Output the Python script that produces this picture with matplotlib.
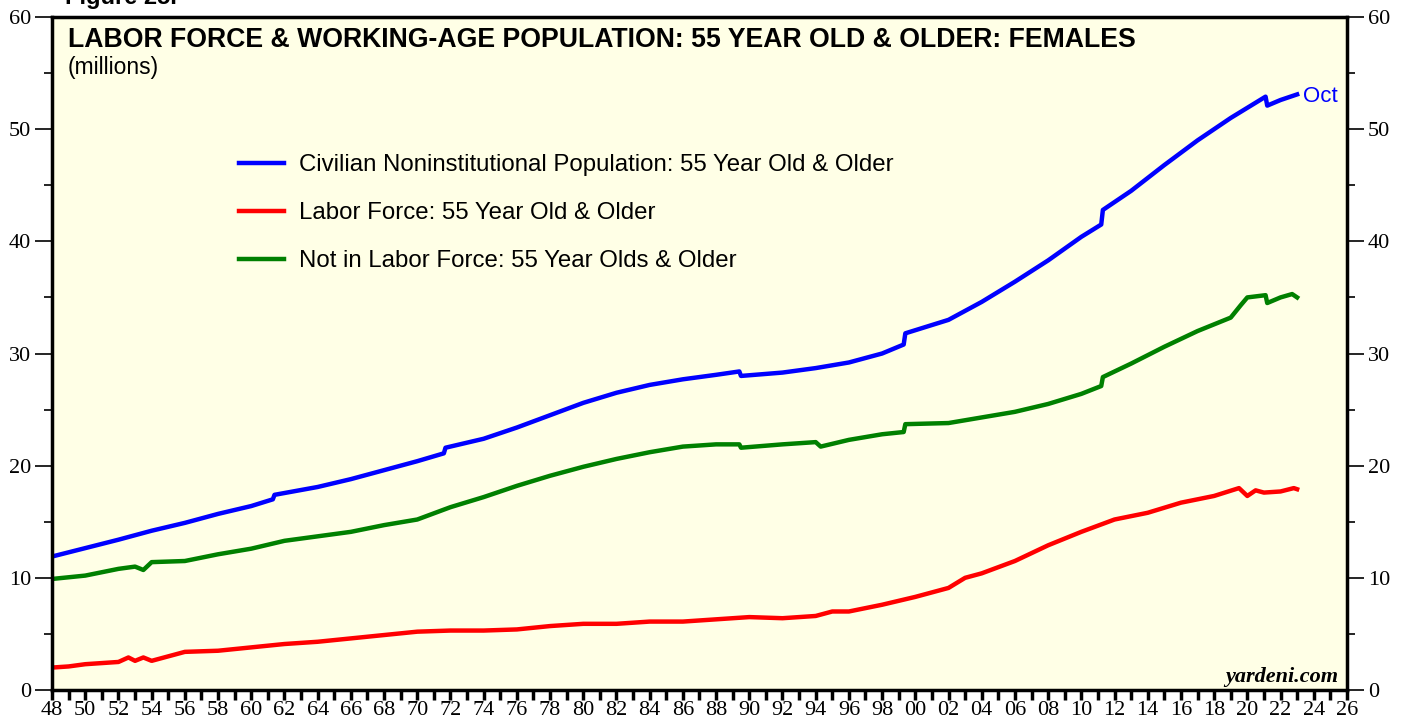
import numpy as np
import matplotlib
matplotlib.use("Agg")
import matplotlib.pyplot as plt
from matplotlib.ticker import MultipleLocator, FixedLocator, FuncFormatter

# values (millions), x in axis years
pop_x = [1948.0, 1950, 1952, 1954, 1956, 1958, 1960, 1961.3, 1961.4, 1964, 1966,
         1968, 1970, 1971.6, 1971.7, 1974, 1976, 1978, 1980, 1982, 1984, 1986,
         1988, 1989.4, 1989.5, 1992, 1994, 1996, 1998, 1999.3, 1999.4, 2002,
         2004, 2006, 2008, 2010, 2011.2, 2011.3, 2013, 2015, 2017, 2019,
         2021.1, 2021.2, 2022, 2023.0]
pop_y = [11.9, 12.65, 13.4, 14.2, 14.9, 15.7, 16.4, 17.0, 17.4, 18.1, 18.8,
         19.6, 20.4, 21.1, 21.6, 22.4, 23.4, 24.5, 25.6, 26.5, 27.2, 27.7,
         28.1, 28.4, 28.0, 28.3, 28.7, 29.2, 30.0, 30.8, 31.8, 33.0,
         34.6, 36.4, 38.3, 40.4, 41.5, 42.8, 44.5, 46.8, 49.0, 51.0,
         52.9, 52.1, 52.6, 53.1]

lf_x = [1948.0, 1949, 1950, 1951, 1952, 1952.6, 1953, 1953.5, 1954, 1955, 1956,
        1958, 1960, 1962, 1964, 1966, 1968, 1970, 1972, 1974, 1976, 1978,
        1980, 1982, 1984, 1986, 1988, 1990, 1992, 1994, 1995, 1996, 1998,
        2000, 2002, 2003, 2004, 2006, 2008, 2010, 2012, 2014, 2016, 2018,
        2019.5, 2020.0, 2020.5, 2021, 2022, 2022.8, 2023.0]
lf_y = [2.0, 2.1, 2.3, 2.4, 2.5, 2.9, 2.6, 2.9, 2.6, 3.0, 3.4,
        3.5, 3.8, 4.1, 4.3, 4.6, 4.9, 5.2, 5.3, 5.3, 5.4, 5.7,
        5.9, 5.9, 6.1, 6.1, 6.3, 6.5, 6.4, 6.6, 7.0, 7.0, 7.6,
        8.3, 9.1, 10.0, 10.4, 11.5, 12.9, 14.1, 15.2, 15.8, 16.7, 17.3,
        18.0, 17.3, 17.8, 17.6, 17.7, 18.0, 17.9]

nlf_x = [1948.0, 1950, 1952, 1953, 1953.5, 1954, 1956, 1958, 1960, 1962, 1964,
         1966, 1968, 1970, 1972, 1974, 1976, 1978, 1980, 1982, 1984, 1986,
         1988, 1989.4, 1989.5, 1992, 1994, 1994.3, 1996, 1998, 1999.3, 1999.4,
         2002, 2004, 2006, 2008, 2010, 2011.2, 2011.3, 2013, 2015, 2017, 2019,
         2019.6, 2020, 2021.1, 2021.2, 2022, 2022.7, 2023.0]
nlf_y = [9.9, 10.2, 10.8, 11.0, 10.7, 11.4, 11.5, 12.1, 12.6, 13.3, 13.7,
         14.1, 14.7, 15.2, 16.3, 17.2, 18.2, 19.1, 19.9, 20.6, 21.2, 21.7,
         21.9, 21.9, 21.6, 21.9, 22.1, 21.7, 22.3, 22.8, 23.0, 23.7,
         23.8, 24.3, 24.8, 25.5, 26.4, 27.1, 27.9, 29.1, 30.6, 32.0, 33.2,
         34.3, 35.0, 35.2, 34.5, 35.0, 35.3, 35.0]

labels = ["Civilian Noninstitutional Population: 55 Year Old & Older",
          "Labor Force: 55 Year Old & Older",
          "Not in Labor Force: 55 Year Olds & Older"]
colors = ["#0000ff", "#ff0000", "#008000"]

fig = plt.figure(figsize=(14.07, 7.21), dpi=100)
ax = fig.add_axes([0.037, 0.043, 0.9203, 0.9334])
ax.set_facecolor("#ffffe6")

for xs, ys, c, lab in zip([pop_x, lf_x, nlf_x], [pop_y, lf_y, nlf_y], colors, labels):
    ax.plot(xs, ys, color=c, lw=3.2, label=lab, solid_joinstyle="round")

ax.set_xlim(1948, 2026)
ax.set_ylim(0, 60)

for s in ax.spines.values():
    s.set_linewidth(2.5)

serif = "Liberation Serif"
ax.yaxis.set_major_locator(MultipleLocator(10))
ax.yaxis.set_minor_locator(MultipleLocator(5))
ax.tick_params(axis="y", which="major", length=12, width=1.2, direction="out",
               left=True, right=True, labelleft=True, labelright=True, labelsize=16, pad=3)
ax.tick_params(axis="y", which="minor", length=6, width=1.2, direction="out",
               left=True, right=True)
ax.xaxis.set_major_locator(FixedLocator(np.arange(1948, 2027, 2)))
ax.xaxis.set_minor_locator(FixedLocator(np.arange(1949, 2027, 2)))
ax.xaxis.set_major_formatter(FuncFormatter(lambda v, p: "%02d" % (int(round(v)) % 100)))
ax.tick_params(axis="x", which="both", length=7, width=2.5, direction="out",
               labelsize=16, pad=1)
for t in ax.get_xticklabels() + ax.get_yticklabels():
    t.set_fontfamily(serif)

ax.text(0.012, 0.985, "LABOR FORCE & WORKING-AGE POPULATION: 55 YEAR OLD & OLDER: FEMALES",
        transform=ax.transAxes, fontsize=19.2, fontweight="bold", family="Liberation Sans",
        va="top", ha="left")
ax.text(0.012, 0.942, "(millions)", transform=ax.transAxes, fontsize=16.5,
        family="Liberation Sans", va="top", ha="left")
fig.text(0.046, 1.003, "Figure 25.", fontsize=17, fontweight="bold",
         family="Liberation Sans", va="center", ha="left")

ax.text(pop_x[-1] + 0.35, pop_y[-1] - 0.15, "Oct", color="#0000ff", fontsize=16,
        family="Liberation Sans", va="center", ha="left")
ax.text(0.993, 0.005, "yardeni.com", transform=ax.transAxes, fontsize=16,
        family=serif, fontweight="bold", style="italic", ha="right", va="bottom")

leg = ax.legend(loc="upper left", bbox_to_anchor=(0.1275, 0.828), frameon=False,
                handlelength=1.9, handletextpad=0.6, labelspacing=1.08,
                prop={"family": "Liberation Sans", "size": 17.3})

fig.savefig("out.png", dpi=100)
